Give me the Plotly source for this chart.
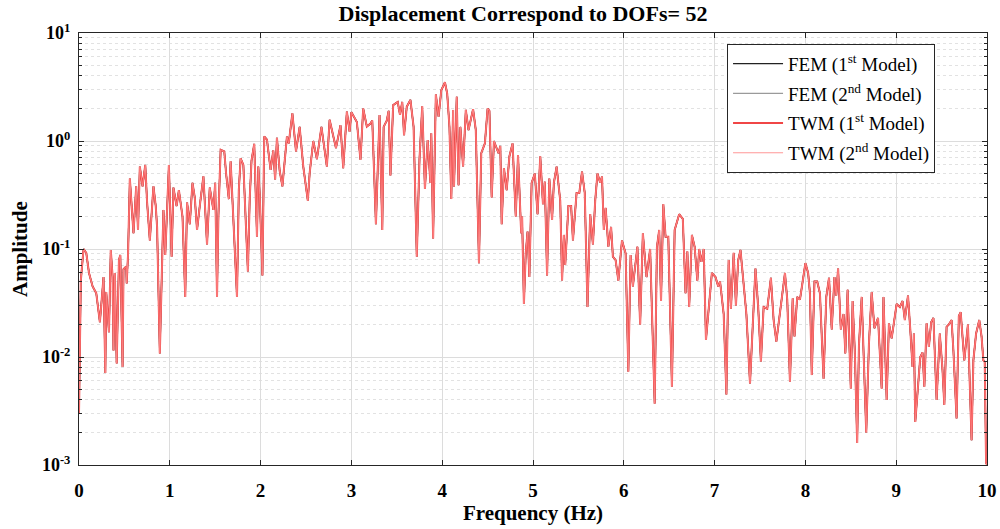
import plotly.graph_objects as go

# Frequency axis samples (Hz) and displacement amplitude of DOF 52
freq_hz = [
    0.00, 0.02, 0.05, 0.08, 0.11, 0.15, 0.19, 0.23, 0.245, 0.27, 0.29, 0.30, 0.33, 0.35, 0.37, 0.38,
    0.395, 0.415, 0.44, 0.455, 0.48, 0.49, 0.52, 0.525, 0.54, 0.56, 0.60, 0.63, 0.65, 0.67, 0.70, 0.73,
    0.75, 0.78, 0.82, 0.845, 0.86, 0.89, 0.93, 0.95, 0.99, 1.02, 1.04, 1.075, 1.10, 1.14, 1.17, 1.19,
    1.22, 1.25, 1.275, 1.30, 1.33, 1.37, 1.41, 1.44, 1.48, 1.50, 1.52, 1.535, 1.56, 1.60, 1.62, 1.65,
    1.67, 1.70, 1.74, 1.76, 1.78, 1.81, 1.86, 1.88, 1.90, 1.93, 1.96, 1.975, 1.99, 2.02, 2.04, 2.07,
    2.11, 2.14, 2.16, 2.18, 2.21, 2.24, 2.29, 2.31, 2.35, 2.39, 2.43, 2.47, 2.52, 2.54, 2.58, 2.62,
    2.67, 2.73, 2.76, 2.83, 2.88, 2.91, 2.95, 2.98, 3.00, 3.06, 3.10, 3.13, 3.17, 3.21, 3.23, 3.27,
    3.31, 3.34, 3.355, 3.39, 3.41, 3.43, 3.46, 3.51, 3.535, 3.56, 3.58, 3.61, 3.65, 3.685, 3.72, 3.75,
    3.78, 3.81, 3.84, 3.87, 3.88, 3.90, 3.93, 3.96, 3.99, 4.03, 4.055, 4.08, 4.10, 4.12, 4.13, 4.16,
    4.18, 4.20, 4.23, 4.26, 4.29, 4.34, 4.37, 4.405, 4.43, 4.47, 4.50, 4.52, 4.545, 4.57, 4.62, 4.64,
    4.655, 4.68, 4.71, 4.74, 4.775, 4.81, 4.835, 4.87, 4.88, 4.90, 4.92, 4.94, 4.96, 4.985, 5.02, 5.05,
    5.08, 5.11, 5.13, 5.155, 5.18, 5.21, 5.23, 5.26, 5.30, 5.32, 5.34, 5.355, 5.39, 5.42, 5.44, 5.48,
    5.51, 5.54, 5.57, 5.60, 5.63, 5.66, 5.685, 5.71, 5.74, 5.76, 5.78, 5.80, 5.83, 5.86, 5.88, 5.91,
    5.94, 5.98, 6.02, 6.05, 6.075, 6.10, 6.15, 6.18, 6.21, 6.25, 6.29, 6.34, 6.365, 6.39, 6.41, 6.435,
    6.46, 6.49, 6.505, 6.53, 6.56, 6.61, 6.65, 6.68, 6.70, 6.72, 6.75, 6.78, 6.81, 6.83, 6.855, 6.88,
    6.905, 6.93, 6.97, 7.01, 7.04, 7.06, 7.10, 7.13, 7.155, 7.18, 7.21, 7.235, 7.26, 7.285, 7.32, 7.35,
    7.39, 7.42, 7.45, 7.48, 7.51, 7.54, 7.58, 7.62, 7.65, 7.68, 7.72, 7.775, 7.80, 7.83, 7.86, 7.88,
    7.91, 7.94, 7.97, 8.00, 8.03, 8.05, 8.07, 8.10, 8.13, 8.16, 8.20, 8.23, 8.26, 8.29, 8.32, 8.34,
    8.36, 8.39, 8.42, 8.44, 8.465, 8.50, 8.52, 8.545, 8.57, 8.59, 8.62, 8.645, 8.67, 8.70, 8.73, 8.76,
    8.80, 8.84, 8.86, 8.895, 8.92, 8.95, 8.98, 9.005, 9.04, 9.07, 9.095, 9.13, 9.155, 9.18, 9.195, 9.21,
    9.24, 9.265, 9.29, 9.31, 9.335, 9.36, 9.385, 9.41, 9.445, 9.48, 9.51, 9.53, 9.555, 9.58, 9.61, 9.63,
    9.665, 9.69, 9.71, 9.75, 9.79, 9.83, 9.85, 9.88, 9.915, 9.94, 9.96, 9.975, 9.99, 10.0,
]

amplitude = [
    0.003, 0.051, 0.10, 0.092, 0.06, 0.045, 0.039, 0.021, 0.03, 0.055, 0.0071, 0.04, 0.017, 0.098, 0.055, 0.0115,
    0.06, 0.0087, 0.079, 0.088, 0.0081, 0.065, 0.069, 0.048, 0.088, 0.45, 0.14, 0.38, 0.15, 0.58, 0.38, 0.60,
    0.27, 0.12, 0.38, 0.25, 0.16, 0.0108, 0.23, 0.088, 0.60, 0.085, 0.37, 0.25, 0.35, 0.20, 0.036, 0.27,
    0.17, 0.41, 0.30, 0.15, 0.25, 0.47, 0.11, 0.37, 0.23, 0.41, 0.036, 0.20, 0.83, 0.80, 0.50, 0.29,
    0.65, 0.20, 0.036, 0.35, 0.69, 0.60, 0.062, 0.29, 0.66, 0.94, 0.13, 0.58, 0.32, 0.057, 1.10, 1.03,
    0.54, 0.82, 0.44, 1.07, 0.53, 0.38, 1.10, 0.95, 1.80, 0.80, 1.35, 0.58, 0.28, 0.50, 1.00, 0.68,
    1.35, 0.58, 1.57, 0.86, 1.40, 0.56, 1.87, 1.22, 1.85, 1.50, 0.67, 2.00, 1.36, 1.45, 1.55, 0.17,
    1.74, 0.15, 1.35, 1.55, 1.90, 0.48, 2.15, 2.30, 1.75, 2.30, 1.13, 2.08, 2.40, 1.35, 0.085, 0.68,
    2.10, 0.36, 1.02, 0.41, 1.18, 0.125, 2.70, 1.68, 2.95, 3.50, 2.75, 1.35, 0.29, 1.94, 0.38, 2.57,
    0.39, 1.35, 0.58, 1.94, 1.26, 1.97, 1.26, 0.074, 0.77, 0.95, 2.00, 1.90, 0.30, 1.00, 0.77, 0.90,
    0.17, 0.56, 0.35, 0.72, 0.95, 0.20, 0.74, 0.14, 0.20, 0.031, 0.091, 0.145, 0.055, 0.41, 0.50, 0.21,
    0.72, 0.26, 0.42, 0.057, 0.45, 0.186, 0.41, 0.58, 0.28, 0.051, 0.135, 0.071, 0.25, 0.25, 0.12, 0.33,
    0.33, 0.52, 0.33, 0.029, 0.21, 0.11, 0.28, 0.50, 0.41, 0.47, 0.15, 0.24, 0.105, 0.16, 0.085, 0.079,
    0.051, 0.12, 0.091, 0.0073, 0.088, 0.045, 0.105, 0.020, 0.14, 0.055, 0.10, 0.0037, 0.105, 0.15, 0.033, 0.26,
    0.13, 0.13, 0.029, 0.0053, 0.15, 0.21, 0.19, 0.039, 0.095, 0.029, 0.135, 0.105, 0.051, 0.10, 0.076, 0.10,
    0.0144, 0.025, 0.06, 0.055, 0.045, 0.05, 0.025, 0.0045, 0.079, 0.028, 0.092, 0.03, 0.079, 0.098, 0.045, 0.025,
    0.0057, 0.020, 0.066, 0.029, 0.0091, 0.029, 0.028, 0.054, 0.022, 0.0139, 0.025, 0.06, 0.034, 0.0059, 0.035, 0.0155,
    0.036, 0.034, 0.05, 0.074, 0.06, 0.039, 0.0068, 0.05, 0.05, 0.039, 0.0063, 0.036, 0.054, 0.018, 0.055, 0.037,
    0.066, 0.018, 0.025, 0.0108, 0.042, 0.0051, 0.033, 0.0108, 0.0016, 0.013, 0.036, 0.0093, 0.002, 0.0134, 0.04, 0.0185,
    0.023, 0.0051, 0.036, 0.004, 0.0205, 0.0149, 0.022, 0.031, 0.029, 0.033, 0.022, 0.037, 0.018, 0.0081, 0.0165, 0.0025,
    0.0053, 0.010, 0.011, 0.0053, 0.0205, 0.0124, 0.021, 0.023, 0.004, 0.0165, 0.0076, 0.0036, 0.019, 0.020, 0.022, 0.0115,
    0.0027, 0.024, 0.026, 0.0093, 0.020, 0.0017, 0.0093, 0.0165, 0.022, 0.0155, 0.0093, 0.009, 0.00105, 0.001,
]

legend_names = [
    "FEM (1<sup>st</sup> Model)",
    "FEM (2<sup>nd</sup> Model)",
    "TWM (1<sup>st</sup> Model)",
    "TWM (2<sup>nd</sup> Model)",
]
line_colors = ["#222222", "#9a9a9a", "#f04646", "#ff8c8c"]
line_widths = [1.4, 1.4, 2.0, 1.0]

y_tick_vals = [1e-3, 1e-2, 1e-1, 1e0, 1e1]
y_tick_text = ["<b>10<sup>-3</sup></b>", "<b>10<sup>-2</sup></b>", "<b>10<sup>-1</sup></b>",
               "<b>10<sup>0</sup></b>", "<b>10<sup>1</sup></b>"]
x_tick_vals = list(range(0, 11))

serif = "Liberation Serif"

fig = go.Figure()
# The FEM and TWM results coincide, so all four curves share the same samples
for i, (name, color, width) in enumerate(zip(legend_names, line_colors, line_widths)):
    fig.add_trace(go.Scatter(
        x=freq_hz, y=amplitude, mode="lines", name=name,
        line=dict(color=color, width=width),
        opacity=0.9 if i == 3 else 1.0,
        legendgroup=f"g{i}",
    ))

minor_vals = [m * 10.0 ** e for e in range(-3, 1) for m in range(2, 10)]

fig.update_layout(
    width=1000, height=529,
    margin=dict(l=79, r=13, t=33, b=64, autoexpand=False),
    paper_bgcolor="white", plot_bgcolor="white",
    title=dict(text="<b>Displacement Correspond to DOFs= 52</b>",
               font=dict(family=serif, size=22, color="black"),
               x=0.489, xref="paper", xanchor="center",
               y=0.974, yref="container", yanchor="middle"),
    legend=dict(x=0.7137, y=0.975, xanchor="left", yanchor="top",
                bgcolor="white", bordercolor="#262626", borderwidth=1,
                font=dict(family=serif, size=19, color="black"),
                itemwidth=50, tracegroupgap=2, traceorder="grouped"),
    showlegend=True,
    annotations=[dict(text="<b>Amplitude</b>", textangle=-90,
                      x=-0.065, y=0.5, xref="paper", yref="paper",
                      xanchor="center", yanchor="middle", showarrow=False,
                      font=dict(family=serif, size=21, color="black"))],
)

fig.update_xaxes(
    range=[0, 10], tickvals=x_tick_vals, ticks="inside", ticklen=5,
    tickcolor="#262626", showline=True, linecolor="#262626", linewidth=1,
    mirror="ticks", showgrid=True, gridcolor="#dcdcdc", gridwidth=1, zeroline=False,
    tickfont=dict(family=serif, size=19, color="black", weight="bold"),
    ticklabelstandoff=8, automargin=False,
    title=dict(text="<b>Frequency (Hz)</b>", font=dict(family=serif, size=21, color="black"),
               standoff=2),
)

fig.update_yaxes(
    type="log", range=[-3, 1], tickvals=y_tick_vals, ticktext=y_tick_text,
    ticks="inside", ticklen=5, tickcolor="#262626",
    showline=True, linecolor="#262626", linewidth=1, mirror="ticks",
    showgrid=True, gridcolor="#dcdcdc", gridwidth=1, zeroline=False,
    tickfont=dict(family=serif, size=18, color="black"),
    ticklabelstandoff=4, automargin=False,
    minor=dict(tickvals=minor_vals, ticks="inside", ticklen=3, tickcolor="#262626",
               showgrid=True, gridcolor="#e2e2e2", griddash="dot", gridwidth=1),
)

fig.write_html("out.html")
